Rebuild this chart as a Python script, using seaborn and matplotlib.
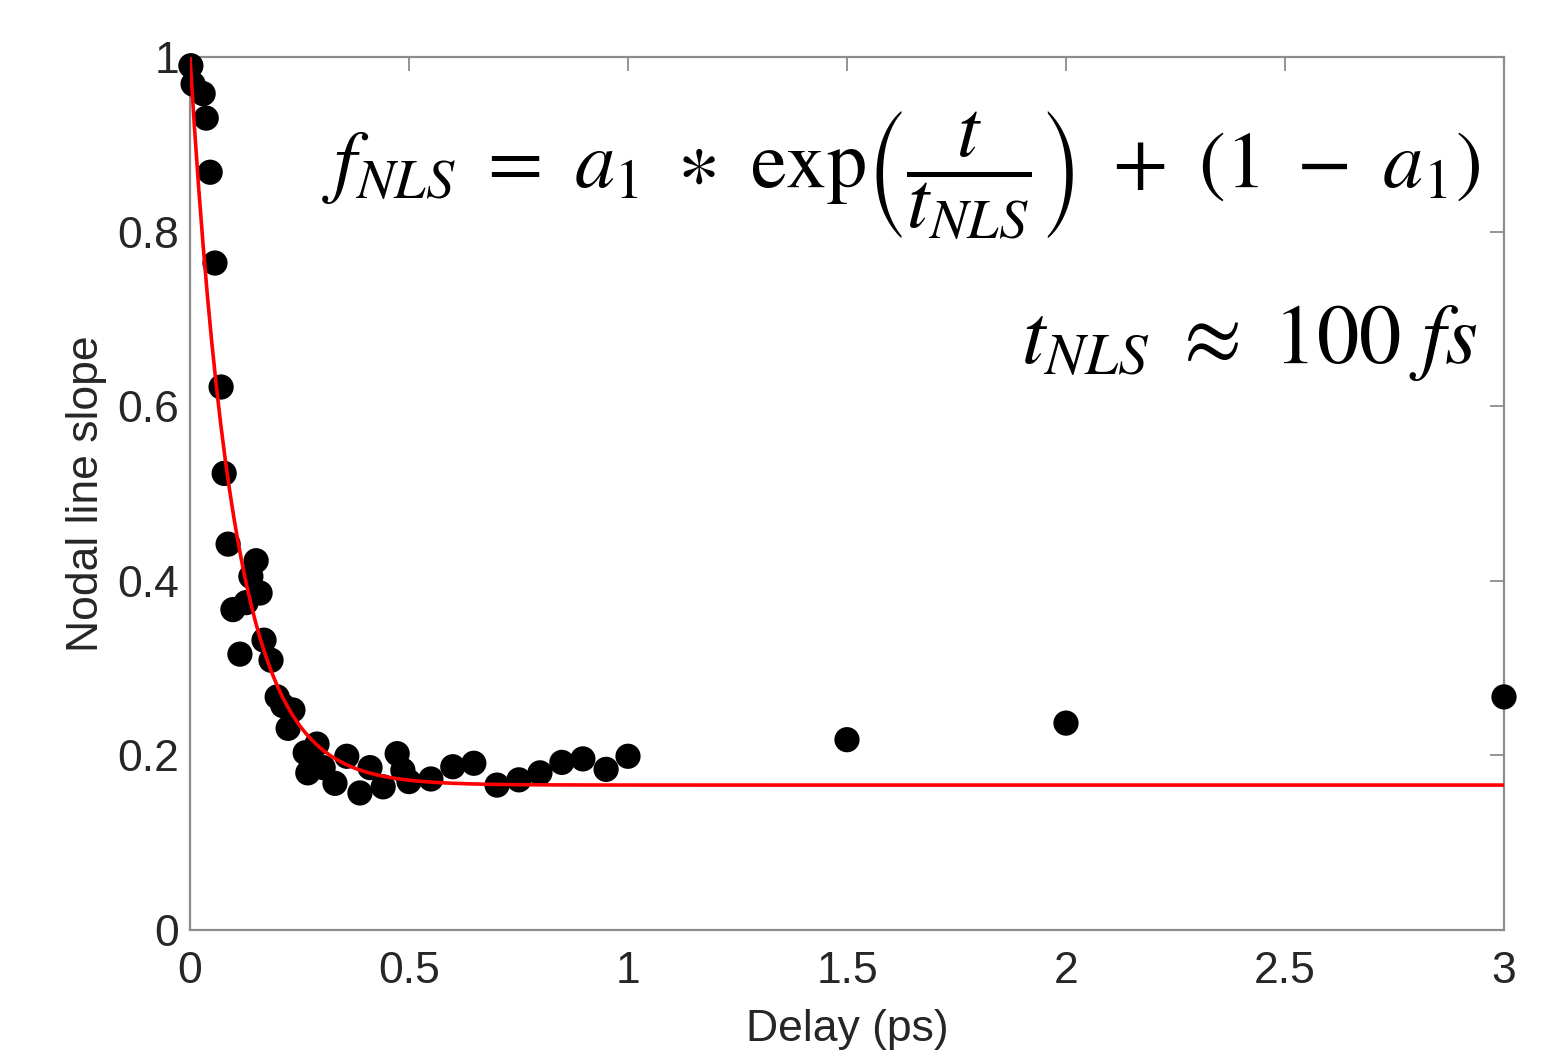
import matplotlib
import matplotlib.pyplot as plt
import seaborn as sns
import numpy as np
import pandas as pd

matplotlib.use('Agg')

# measured nodal line slope vs pump-probe delay
delay = [0.002, 0.007, 0.030, 0.037, 0.046, 0.057, 0.071, 0.078, 0.087, 0.098,
         0.128, 0.139, 0.151, 0.160, 0.114, 0.169, 0.185, 0.199, 0.212, 0.235,
         0.224, 0.290, 0.263, 0.358, 0.269, 0.304, 0.331, 0.388, 0.411, 0.473,
         0.441, 0.486, 0.500, 0.550, 0.600, 0.648, 0.701, 0.751, 0.799, 0.849,
         0.897, 0.950, 1.000, 1.500, 2.000, 3.000]
slope = [0.990, 0.969, 0.958, 0.930, 0.868, 0.764, 0.622, 0.523, 0.442, 0.367,
         0.375, 0.405, 0.423, 0.386, 0.316, 0.332, 0.309, 0.267, 0.257, 0.252,
         0.231, 0.213, 0.203, 0.199, 0.180, 0.186, 0.168, 0.157, 0.186, 0.202,
         0.164, 0.183, 0.170, 0.173, 0.187, 0.191, 0.166, 0.172, 0.180, 0.192,
         0.196, 0.184, 0.199, 0.218, 0.237, 0.267]

# fit parameters (f = a1*exp(-t/t_nls) + (1 - a1))
a1 = 0.834
t_nls = 0.1

x_ticks = [0, 0.5, 1, 1.5, 2, 2.5, 3]
x_labels = ['0', '0.5', '1', '1.5', '2', '2.5', '3']
y_ticks = [0, 0.2, 0.4, 0.6, 0.8, 1]
y_labels = ['0', '0.2', '0.4', '0.6', '0.8', '1']

df = pd.DataFrame({'Delay': delay, 'Slope': slope})
t_fit = np.linspace(0, 3, 600)
fit = pd.DataFrame({'Delay': t_fit, 'Slope': a1 * np.exp(-t_fit / t_nls) + (1 - a1)})

sns.set_theme(style='white')
plt.rcParams['font.family'] = ['Liberation Sans', 'DejaVu Sans']
plt.rcParams['mathtext.fontset'] = 'stix'

fig = plt.figure(figsize=(15.6, 10.51), dpi=100)
ax = fig.add_axes([190 / 1560, 1 - 930 / 1051, (1504 - 190) / 1560, (930 - 57) / 1051])

sns.scatterplot(data=df, x='Delay', y='Slope', ax=ax, color='black', s=330,
                edgecolor='none', zorder=3, clip_on=False)
sns.lineplot(data=fit, x='Delay', y='Slope', ax=ax, color='#ff0000', linewidth=2.6,
             zorder=4)

ax.set_xlim(0, 3)
ax.set_ylim(0, 1)
ax.set_xticks(x_ticks)
ax.set_xticklabels(x_labels)
ax.set_yticks(y_ticks)
ax.set_yticklabels(y_labels)

for s in ax.spines.values():
    s.set_visible(True)
    s.set_color('#8c8c8c')
    s.set_linewidth(1.6)

ax.tick_params(direction='in', length=10, width=1.3, color='#8c8c8c',
               top=True, right=True, labelsize=32, labelcolor='#262626', pad=8)
ax.tick_params(axis='x', pad=15)
ax.set_xlabel('Delay (ps)', fontsize=32, color='#262626', labelpad=12)
ax.set_ylabel('Nodal line slope', fontsize=32, color='#262626', labelpad=7)

fig.text(1480 / 1560, 1 - 175 / 1051,
         r'$f_{NLS}\ =\ a_1\ \ast\ \mathrm{exp}\left(\dfrac{t}{t_{NLS}}\right)\ +\ (1\ -\ a_1)$',
         ha='right', va='center', fontsize=58, color='black')
fig.text(1478 / 1560, 1 - 363 / 1051, r'$t_{NLS}\ \approx\ 100\ fs$',
         ha='right', va='baseline', fontsize=61, color='black')

fig.savefig('out.png', dpi=100)
